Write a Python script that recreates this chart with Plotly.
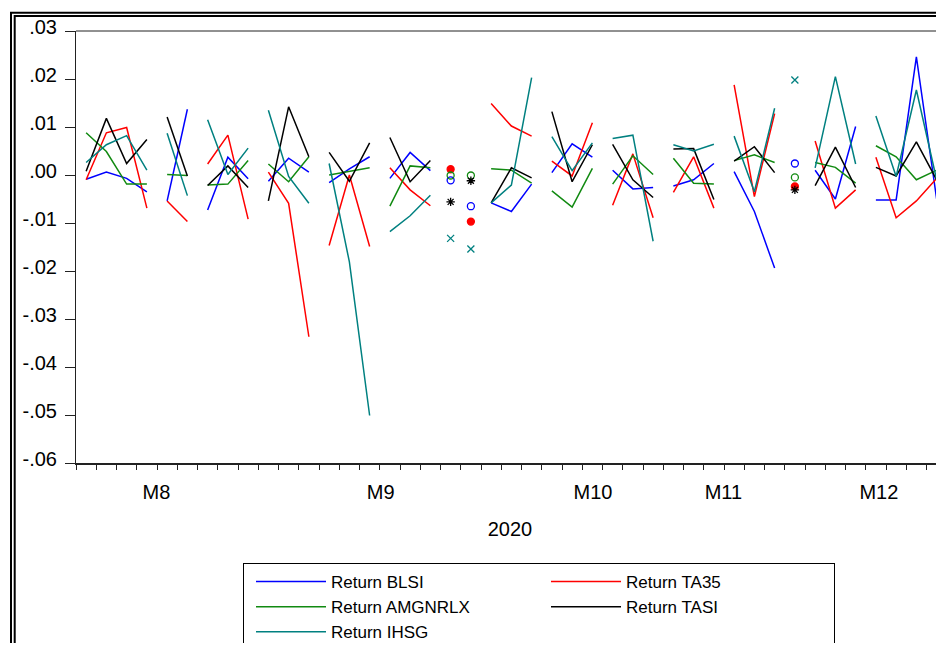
import plotly.graph_objects as go

# ---------------- data ----------------
series_names = ["Return BLSI", "Return TA35", "Return AMGNRLX", "Return TASI", "Return IHSG"]
series_colors = ["#0000ff", "#ff0000", "#118a11", "#000000", "#008080"]
single_symbols = ["circle-open", "circle", "circle-open", "asterisk-open", "x-thin-open"]

# lengths of consecutive observation runs (lines break between runs)
segment_lengths = [4, 2, 3, 3, 3, 3, 1, 1, 3, 3, 3, 3, 3, 1, 3, 4]

month_names = ["M8", "M9", "M10", "M11", "M12"]
month_counts = [9, 13, 7, 6, 8]
month_label_pos = [3.47, 14.55, 25.03, 31.47, 39.15]

blsi = [-0.0009, 0.0006, -0.0007, -0.0035,
        -0.0054, 0.0137,
        -0.0073, 0.0037, -0.0008,
        -0.0013, 0.0035, 0.0006,
        -0.0016, 0.0013, 0.0038,
        -0.0007, 0.0047, 0.0009,
        -0.0011,
        -0.0065,
        -0.0058, -0.0076, -0.0019,
        0.0005, 0.0065, 0.0037,
        0.0010, -0.0029, -0.0026,
        -0.0023, -0.0010, 0.0024,
        0.0007, -0.0076, -0.0194,
        0.0024,
        0.0010, -0.0050, 0.0101,
        -0.0052, -0.0052, 0.0246, -0.0050]

ta35 = [-0.0010, 0.0088, 0.0099, -0.0069,
        -0.0054, -0.0097,
        0.0023, 0.0083, -0.0092,
        0.0006, -0.0059, -0.0337,
        -0.0147, 0.0000, -0.0149,
        0.0015, -0.0031, -0.0064,
        0.0012,
        -0.0097,
        0.0149, 0.0102, 0.0081,
        0.0029, -0.0002, 0.0109,
        -0.0063, 0.0044, -0.0089,
        -0.0036, 0.0038, -0.0069,
        0.0188, -0.0045, 0.0128,
        -0.0024,
        0.0071, -0.0069, -0.0031,
        0.0037, -0.0089, -0.0054, -0.0007]

amgnrlx = [0.0088, 0.0049, -0.0019, -0.0019,
           0.0001, -0.0001,
           -0.0021, -0.0019, 0.0030,
           0.0023, -0.0014, 0.0038,
           0.0000, 0.0007, 0.0015,
           -0.0065, 0.0019, 0.0015,
           -0.0001,
           -0.0001,
           0.0013, 0.0010, -0.0017,
           -0.0033, -0.0067, 0.0014,
           -0.0019, 0.0040, 0.0001,
           0.0035, -0.0017, -0.0019,
           0.0030, 0.0042, 0.0026,
           -0.0005,
           0.0026, 0.0016, -0.0017,
           0.0061, 0.0038, -0.0010, 0.0010]

tasi = [0.0008, 0.0118, 0.0024, 0.0074,
        0.0121, -0.0002,
        -0.0022, 0.0019, -0.0026,
        -0.0054, 0.0142, 0.0038,
        0.0047, -0.0013, 0.0067,
        0.0078, -0.0014, 0.0030,
        -0.0056,
        -0.0012,
        -0.0058, 0.0015, -0.0006,
        0.0132, -0.0014, 0.0063,
        0.0064, -0.0010, -0.0047,
        0.0054, 0.0055, -0.0051,
        0.0029, 0.0059, 0.0005,
        -0.0031,
        -0.0022, 0.0058, -0.0026,
        0.0016, -0.0002, 0.0069, -0.0010]

ihsg = [0.0026, 0.0063, 0.0082, 0.0010,
        0.0087, -0.0043,
        0.0115, 0.0001, 0.0056,
        0.0135, -0.0003, -0.0059,
        0.0024, -0.0181, -0.0501,
        -0.0118, -0.0085, -0.0042,
        -0.0132,
        -0.0154,
        -0.0058, -0.0021, 0.0203,
        0.0080, 0.0009, 0.0067,
        0.0076, 0.0083, -0.0138,
        0.0063, 0.0050, 0.0064,
        0.0081, -0.0035, 0.0139,
        0.0198,
        0.0015, 0.0205, 0.0023,
        0.0123, -0.0003, 0.0177, -0.0010]

series_values = [blsi, ta35, amgnrlx, tasi, ihsg]

y_ticks = [0.03, 0.02, 0.01, 0.00, -0.01, -0.02, -0.03, -0.04, -0.05, -0.06]
y_tick_text = [".03", ".02", ".01", ".00", "-.01", "-.02", "-.03", "-.04", "-.05", "-.06"]

# ---------------- layout geometry ----------------
# the page body has an 8px margin, so the figure is drawn 8px right/down
OFF = 8
W, H = 936, 635
ML, MR, MT, MB = 68, 0, 23, 180
PW, PH = W - ML - MR, H - MT - MB
n_obs = len(blsi)
px_per_obs = 20.25
x_range = [-0.5, -0.5 + PW / px_per_obs]

def xp(sx):
    return (sx - OFF - ML) / PW

def yp(sy):
    return (H - MB - (sy - OFF)) / PH

FONT = "Liberation Sans, Arial, sans-serif"
FS = 20
LFS = 17

fig = go.Figure()

for name, color, sym, vals in zip(series_names, series_colors, single_symbols, series_values):
    xs, ys, sx, sy = [], [], [], []
    start = 0
    for L in segment_lengths:
        idx = list(range(start, start + L))
        if L == 1:
            sx.append(idx[0])
            sy.append(vals[idx[0]])
        else:
            xs += idx + [None]
            ys += [vals[i] for i in idx] + [None]
        start += L
    fig.add_trace(go.Scatter(x=xs, y=ys, mode="lines", name=name,
                             line=dict(color=color, width=1.5),
                             connectgaps=False))
    fig.add_trace(go.Scatter(x=sx, y=sy, mode="markers", name=name, showlegend=False,
                             marker=dict(symbol=sym, size=7, color=color,
                                         line=dict(color=color, width=1.3))))

# month boundaries
bounds = []
c = 0
for cnt in month_counts[:-1]:
    c += cnt
    bounds.append(c - 0.5)

fig.update_layout(
    width=W, height=H, autosize=False,
    margin=dict(l=ML, r=MR, t=MT, b=MB, autoexpand=False),
    paper_bgcolor="white", plot_bgcolor="white",
    font=dict(family=FONT, size=FS, color="black"),
    showlegend=True,
    legend=dict(orientation="h", x=xp(243), y=yp(563), xanchor="left", yanchor="top",
                bordercolor="black", borderwidth=1, bgcolor="white",
                font=dict(family=FONT, size=LFS, color="black"),
                entrywidth=203, entrywidthmode="pixels", itemwidth=70,
                indentation=7, traceorder="normal"),
    xaxis=dict(range=x_range, showgrid=False, zeroline=False,
               showline=True, linecolor="#222", linewidth=2,
               tickmode="array", tickvals=month_label_pos, ticktext=month_names,
               ticks="", ticklabelstandoff=10,
               tickfont=dict(family=FONT, size=FS, color="black"),
               minor=dict(tickmode="array", tickvals=[i - 0.5 for i in range(n_obs + 2)],
                          ticks="outside", ticklen=5, tickcolor="#222", tickwidth=1,
                          showgrid=False),
               title=dict(text="2020", font=dict(family=FONT, size=FS, color="black"),
                          standoff=20)),
    xaxis2=dict(range=x_range, overlaying="x", anchor="y", side="bottom",
                showgrid=False, zeroline=False, showline=False,
                tickmode="array", tickvals=bounds, ticks="outside", ticklen=11,
                tickcolor="#222", tickwidth=1.5, showticklabels=False),
    yaxis=dict(range=[-0.06, 0.03], showgrid=False, zeroline=False,
               showline=True, linecolor="#222", linewidth=1,
               tickmode="array", tickvals=y_ticks, ticktext=y_tick_text,
               ticks="outside", ticklen=10, tickcolor="#222", tickwidth=1,
               ticklabelstandoff=4, ticklabelshift=-4,
               tickfont=dict(family=FONT, size=FS, color="black")),
    shapes=[
        dict(type="line", xref="paper", yref="paper", x0=0, x1=xp(970), y0=1, y1=1,
             line=dict(color="#222", width=1)),
        dict(type="rect", xref="paper", yref="paper", x0=xp(11), x1=xp(990),
             y0=yp(700), y1=yp(12.7), line=dict(color="black", width=2), layer="above"),
        dict(type="rect", xref="paper", yref="paper", x0=xp(14.7), x1=xp(986),
             y0=yp(696), y1=yp(16), line=dict(color="black", width=2), layer="above"),
    ],
)

fig.write_html("out.html", config={"responsive": False})
